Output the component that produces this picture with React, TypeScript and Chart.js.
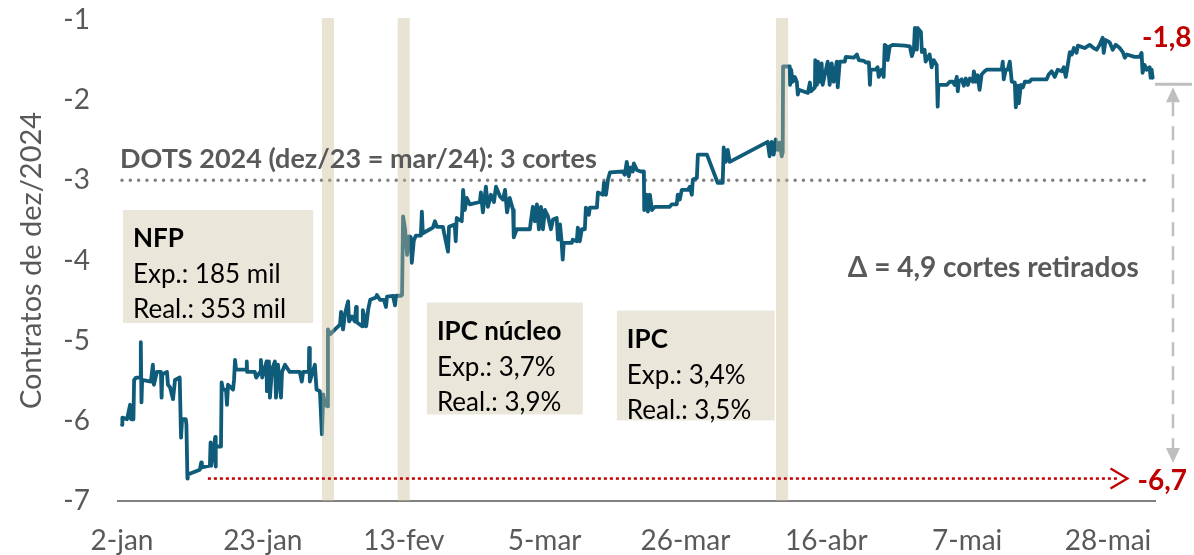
import React, { useEffect, useRef } from 'react';
import { Chart, registerables } from 'chart.js';

Chart.register(...registerables);

const FONT = 'Lato, "Noto Sans", sans-serif';
const GRAY = '#595959';
const RED = '#C00000';
const LINE = '#0F5B7A';

// Eixo X: dias desde 2-jan-2024
const tickDays = [0, 21, 42, 63, 84, 105, 126, 147];
const tickLabels = ['2-jan', '23-jan', '13-fev', '5-mar', '26-mar', '16-abr', '7-mai', '28-mai'];
const yTickValues = [-7, -6, -5, -4, -3, -2, -1];

// [dias desde 2-jan, cortes precificados]
const pontosJan: [number, number][] = [
  [0, -6.05], [0.05, -5.96], [0.75, -5.98], [1.2, -5.8], [1.35, -5.98], [1.7, -5.98], [1.8, -5.49], [2.1, -5.46],
  [2.75, -5.46], [2.8, -5.02], [2.9, -5.77], [3.0, -5.49], [4.3, -5.51], [4.6, -5.3], [4.75, -5.55], [5.2, -5.39],
  [5.8, -5.39], [5.9, -5.71], [6.0, -5.42], [6.7, -5.39], [6.85, -5.55], [7.15, -5.58], [7.6, -5.73], [7.9, -5.49],
  [8.6, -5.46], [8.8, -6.21], [8.95, -5.98], [9.5, -5.98], [9.6, -6.05], [9.75, -6.72], [9.8, -6.67], [11.6, -6.61],
  [11.8, -6.52], [11.9, -6.58], [13.1, -6.56], [13.2, -6.27], [13.3, -6.56], [13.9, -6.2], [13.95, -6.57], [14.0, -6.32],
  [14.75, -6.32], [14.85, -5.52], [15.05, -5.61], [15.5, -5.61], [15.65, -5.8], [15.8, -5.55], [16.55, -5.61], [16.7, -5.49],
  [16.85, -5.24], [17.0, -5.36], [18.5, -5.36], [18.6, -5.26], [18.65, -5.39], [19.8, -5.39], [20.0, -5.46], [20.6, -5.39],
  [20.7, -5.24], [20.9, -5.46], [21.55, -5.26], [21.6, -5.63], [21.9, -5.26], [22.05, -5.71], [22.35, -5.36], [22.8, -5.26],
  [22.95, -5.71], [23.25, -5.3], [23.7, -5.71], [23.85, -5.39], [24.3, -5.3], [25.0, -5.39], [26.5, -5.39], [26.8, -5.51],
  [27.0, -5.39], [27.85, -5.39], [27.9, -5.09], [28.0, -5.51], [28.75, -5.3], [29.0, -5.61], [29.5, -5.63], [29.8, -6.17],
  [30.0, -5.67], [30.25, -5.8], [30.65, -5.82],
];

const pontosFev: [number, number][] = [
  [30.7, -4.86], [31.0, -4.92], [31.75, -4.86], [32.5, -4.8], [32.65, -4.64], [32.95, -4.86], [33.25, -4.66], [33.7, -4.51],
  [33.85, -4.76], [34.3, -4.7], [34.7, -4.76], [34.9, -4.58], [35.0, -4.77], [35.8, -4.82], [35.9, -4.62], [36.4, -4.82],
  [36.7, -4.61], [37.0, -4.49], [37.85, -4.46], [38.0, -4.43], [38.45, -4.49], [39.05, -4.49], [39.35, -4.58], [39.5, -4.45],
  [40.4, -4.44], [40.7, -4.56], [40.85, -4.44], [41.6, -4.44], [41.75, -4.43], [41.9, -3.45], [42.2, -3.61], [42.5, -3.93],
  [42.8, -3.7], [42.9, -3.86], [43.05, -3.71], [43.2, -4.03], [43.5, -3.75], [43.8, -3.69], [44.55, -3.69], [44.7, -3.39],
  [44.85, -3.66], [45.9, -3.61], [46.35, -3.59], [46.65, -3.51], [46.95, -3.58], [47.85, -3.58], [48.0, -3.65], [48.6, -3.89],
  [48.75, -3.58], [49.6, -3.55], [49.75, -3.76], [49.9, -3.47], [50.65, -3.51], [50.85, -3.12], [51.1, -3.37], [51.4, -3.22],
  [51.85, -3.3], [53.35, -3.27], [53.5, -3.15], [53.8, -3.4], [54.25, -3.08], [54.55, -3.33], [55.0, -3.18], [55.45, -3.27],
  [55.75, -3.08], [56.35, -3.2], [56.8, -3.24], [57.1, -3.12], [57.4, -3.4], [57.8, -3.22], [58.3, -3.37], [58.4, -3.71],
];

const pontosMar: [number, number][] = [
  [58.85, -3.61], [60.8, -3.61], [60.95, -3.51], [61.25, -3.33], [61.55, -3.51], [61.85, -3.3], [62.15, -3.61], [62.45, -3.33],
  [62.75, -3.61], [63.05, -3.37], [63.5, -3.45], [63.95, -3.61], [64.25, -3.49], [64.8, -3.47], [65.0, -3.74], [65.3, -3.55],
  [65.55, -3.78], [65.7, -3.99], [65.85, -3.78], [67.05, -3.78], [67.2, -3.74], [67.8, -3.76], [67.95, -3.59], [68.25, -3.76],
  [68.55, -3.61], [69.0, -3.61], [69.15, -3.34], [69.6, -3.43], [69.75, -3.34], [70.8, -3.34], [70.95, -3.15], [71.7, -3.18],
  [71.85, -3.03], [72.15, -3.18], [72.45, -2.99], [72.75, -2.9], [74.65, -2.89], [74.95, -2.93], [75.25, -2.77], [75.55, -2.95],
  [75.85, -2.84], [76.15, -2.89], [76.3, -2.79], [76.75, -2.87], [77.35, -2.89], [77.8, -2.89], [77.85, -3.37], [78.25, -3.18],
  [78.4, -3.39], [78.7, -3.18], [79.0, -3.37], [79.45, -3.33], [81.65, -3.33], [81.95, -3.3], [82.7, -3.3], [82.85, -3.18],
  [83.15, -3.24], [83.45, -3.12], [84.35, -3.12], [84.65, -3.08], [84.95, -3.18], [85.1, -2.99], [85.7, -2.97], [85.85, -2.68],
  [87.2, -2.68], [88.8, -3.03], [89.55, -3.03], [89.7, -2.59], [90.0, -2.77], [90.3, -2.62], [90.6, -2.77], [96.25, -2.52],
  [96.55, -2.7], [96.85, -2.52], [97.15, -2.68], [97.45, -2.49], [97.75, -2.62], [98.05, -2.53], [98.35, -2.7], [98.5, -2.65],
];

const pontosAbrMai: [number, number][] = [
  [98.55, -1.58], [99.55, -1.58], [99.6, -1.81], [99.75, -1.62], [100.0, -1.77], [100.3, -1.71], [100.6, -1.77], [100.75, -1.93],
  [100.9, -1.87], [102.25, -1.91], [102.55, -1.78], [102.7, -1.89], [103.3, -1.84], [103.35, -1.5], [103.6, -1.81], [103.75, -1.52],
  [104.0, -1.77], [104.3, -1.54], [104.45, -1.81], [105.2, -1.52], [105.5, -1.81], [105.8, -1.54], [106.1, -1.77], [106.55, -1.52],
  [106.7, -1.84], [107.0, -1.52], [107.75, -1.52], [107.9, -1.46], [109.1, -1.47], [109.55, -1.43], [109.85, -1.5], [110.6, -1.51],
  [110.9, -1.53], [111.35, -1.53], [111.5, -1.81], [111.6, -1.62], [112.35, -1.62], [112.65, -1.59], [112.8, -1.71], [113.25, -1.62],
  [113.55, -1.71], [113.7, -1.31], [114.0, -1.33], [114.15, -1.5], [114.45, -1.33], [114.9, -1.31], [116.7, -1.32], [117.45, -1.33],
  [117.75, -1.45], [118.05, -1.37], [118.2, -1.1], [118.5, -1.37], [118.6, -1.1], [119.1, -1.15], [119.25, -1.4], [119.65, -1.37],
  [119.8, -1.52], [120.4, -1.43], [120.7, -1.59], [121.0, -1.5], [121.45, -1.56], [121.6, -2.08], [121.7, -1.81], [122.95, -1.81],
  [123.4, -1.77], [123.85, -1.77], [124.15, -1.81], [124.45, -1.71], [124.6, -1.89], [124.75, -1.77], [125.2, -1.74], [125.5, -1.82],
  [125.8, -1.73], [126.1, -1.81], [126.4, -1.73], [126.85, -1.77], [127.0, -1.64], [127.25, -1.77], [127.55, -1.69], [127.85, -1.87],
  [128.15, -1.68], [128.6, -1.64], [128.9, -1.62], [131.15, -1.62], [131.3, -1.52], [131.45, -1.74], [131.75, -1.62], [132.05, -1.62],
  [132.35, -1.52], [132.65, -1.77], [133.1, -1.78], [133.25, -2.09], [133.55, -1.82], [133.7, -2.04], [134.0, -1.81], [134.3, -1.84],
  [134.6, -1.77], [135.3, -1.77], [135.6, -1.74], [137.85, -1.74], [138.15, -1.68], [138.6, -1.64], [139.05, -1.71], [139.5, -1.62],
  [140.1, -1.64], [140.4, -1.59], [140.7, -1.71], [141.0, -1.56], [141.3, -1.4], [141.6, -1.43], [141.9, -1.35], [142.3, -1.41],
  [142.5, -1.32], [143.5, -1.35], [144.25, -1.31], [144.85, -1.35], [145.3, -1.37], [145.75, -1.31], [146.2, -1.22], [146.35, -1.41],
  [146.65, -1.25], [147.25, -1.28], [147.7, -1.37], [148.15, -1.31], [148.75, -1.35], [149.2, -1.4], [149.5, -1.47], [149.8, -1.43],
  [150.95, -1.46], [151.7, -1.46], [152.0, -1.41], [152.15, -1.66], [152.45, -1.56], [152.75, -1.62], [153.2, -1.59], [153.35, -1.72],
  [153.5, -1.62], [153.65, -1.72],
];

const serie = [...pontosJan, ...pontosFev, ...pontosMar, ...pontosAbrMai];

// Eventos (NFP 2-fev, IPC 13-fev, IPC 10-abr)
const eventDays = [30.7, 42.0, 98.4];
const dotsLevel = -3;
const dotsLabel = 'DOTS 2024 (dez/23 = mar/24): 3 cortes';
const endLevel = -1.8;
const endLabel = '-1,8';
const lowLevel = Math.min(...serie.map((p) => p[1]));
const lowLabel = '-6,7';
const lowFromDay = 12.8;
const deltaLabel = 'Δ = 4,9 cortes retirados';

const linesNFP = ['NFP', 'Exp.: 185 mil', 'Real.: 353 mil'];
const linesNucleo = ['IPC núcleo', 'Exp.: 3,7%', 'Real.: 3,9%'];
const linesIPC = ['IPC', 'Exp.: 3,4%', 'Real.: 3,5%'];

const boxes = [
  { from: 0.15, to: 28.5, top: -3.37, bottom: -4.78, lines: linesNFP },
  { from: 45.45, to: 68.7, top: -4.525, bottom: -5.92, lines: linesNucleo },
  { from: 73.77, to: 97.3, top: -4.625, bottom: -5.995, lines: linesIPC },
];

const annotations = {
  id: 'annotations',
  beforeDatasetsDraw(chart: any) {
    const { ctx, chartArea: ca, scales } = chart;
    const x = scales.x, y = scales.y;
    ctx.save();
    for (const b of boxes) {
      const x0 = x.getPixelForValue(b.from);
      const x1 = x.getPixelForValue(b.to);
      const y0 = y.getPixelForValue(b.top);
      const y1 = y.getPixelForValue(b.bottom);
      ctx.fillStyle = '#EAE6D9';
      ctx.fillRect(x0, y0, x1 - x0, y1 - y0);
      ctx.fillStyle = '#000000';
      ctx.textAlign = 'left';
      ctx.textBaseline = 'alphabetic';
      const offs = [37, 73, 108];
      b.lines.forEach((t, i) => {
        ctx.font = (i === 0 ? 'bold ' : '') + '26px ' + FONT;
        ctx.fillText(t, x0 + 10, y0 + offs[i]);
      });
    }
    const yd = y.getPixelForValue(dotsLevel);
    ctx.strokeStyle = '#7F7F7F';
    ctx.lineWidth = 3.5;
    ctx.lineCap = 'round';
    ctx.setLineDash([0.01, 8.3]);
    ctx.beginPath();
    ctx.moveTo(ca.left + 4, yd);
    ctx.lineTo(x.getPixelForValue(153.2), yd);
    ctx.stroke();
    ctx.restore();
  },
  afterDatasetsDraw(chart: any) {
    const { ctx, chartArea: ca, scales } = chart;
    const x = scales.x, y = scales.y;
    ctx.save();
    ctx.fillStyle = 'rgba(201,187,150,0.41)';
    for (const d of eventDays) {
      const xa = x.getPixelForValue(d - 0.9);
      const xb = x.getPixelForValue(d + 0.9);
      ctx.fillRect(xa, ca.top - 2, xb - xa, ca.bottom - ca.top + 2);
    }
    ctx.fillStyle = GRAY;
    ctx.font = 'bold 27px ' + FONT;
    ctx.textAlign = 'left';
    ctx.textBaseline = 'alphabetic';
    ctx.fillText(dotsLabel, x.getPixelForValue(-0.3), y.getPixelForValue(-2.84));
    ctx.font = 'bold 28px ' + FONT;
    ctx.textAlign = 'center';
    ctx.fillText(deltaLabel, x.getPixelForValue(129.9), y.getPixelForValue(-4.21));

    const yl = y.getPixelForValue(lowLevel);
    const tip = x.getPixelForValue(149.9);
    ctx.strokeStyle = RED;
    ctx.lineWidth = 2.5;
    ctx.lineCap = 'butt';
    ctx.setLineDash([3, 3]);
    ctx.beginPath();
    ctx.moveTo(x.getPixelForValue(lowFromDay), yl);
    ctx.lineTo(tip - 8, yl);
    ctx.stroke();
    ctx.setLineDash([]);
    ctx.lineWidth = 2.2;
    ctx.beginPath();
    ctx.moveTo(tip - 17, yl - 10);
    ctx.lineTo(tip, yl);
    ctx.lineTo(tip - 17, yl + 10);
    ctx.stroke();
    ctx.fillStyle = RED;
    ctx.font = 'bold 28px ' + FONT;
    ctx.textAlign = 'left';
    ctx.fillText(lowLabel, tip + 10, yl + 11);

    const ye = y.getPixelForValue(endLevel);
    ctx.fillText(endLabel, ca.right - 13, ye - 37);

    const xr = ca.right + 18;
    const yLowArrow = y.getPixelForValue(-6.7);
    ctx.strokeStyle = '#BFBFBF';
    ctx.fillStyle = '#BFBFBF';
    ctx.lineWidth = 3;
    ctx.beginPath();
    ctx.moveTo(ca.right, ye);
    ctx.lineTo(ca.right + 37, ye);
    ctx.stroke();
    ctx.setLineDash([14, 10]);
    ctx.lineWidth = 2.5;
    ctx.beginPath();
    ctx.moveTo(xr, ye + 18);
    ctx.lineTo(xr, yLowArrow - 29);
    ctx.stroke();
    ctx.setLineDash([]);
    ctx.beginPath();
    ctx.moveTo(xr, ye + 3);
    ctx.lineTo(xr - 7, ye + 18);
    ctx.lineTo(xr + 7, ye + 18);
    ctx.closePath();
    ctx.fill();
    ctx.beginPath();
    ctx.moveTo(xr, yLowArrow - 14);
    ctx.lineTo(xr - 7, yLowArrow - 29);
    ctx.lineTo(xr + 7, yLowArrow - 29);
    ctx.closePath();
    ctx.fill();
    ctx.restore();
  },
};

export default function App() {
  const ref = useRef<HTMLCanvasElement | null>(null);

  useEffect(() => {
    if (!ref.current) return;
    const chart = new Chart(ref.current, {
      type: 'line',
      data: {
        datasets: [
          {
            data: serie.map(([d, v]) => ({ x: d, y: v })),
            borderColor: LINE,
            borderWidth: 3.8,
            pointRadius: 0,
            tension: 0,
            borderCapStyle: 'round',
            borderJoinStyle: 'round',
            fill: false,
          },
        ],
      },
      options: {
        animation: false,
        responsive: true,
        maintainAspectRatio: false,
        layout: { padding: { left: 0, right: 39, top: 20, bottom: 0 } },
        plugins: { legend: { display: false }, tooltip: { enabled: false } },
        scales: {
          x: {
            type: 'linear',
            min: -0.6,
            max: 154,
            afterBuildTicks: (s: any) => {
              s.ticks = tickDays.map((v) => ({ value: v }));
            },
            afterFit: (s: any) => {
              s.height = 54;
            },
            ticks: {
              autoSkip: false,
              maxRotation: 0,
              padding: 23,
              color: GRAY,
              font: { family: FONT, size: 28 },
              callback: (v: any) => {
                const i = tickDays.indexOf(Number(v));
                return i >= 0 ? tickLabels[i] : '';
              },
            },
            grid: { display: false, drawTicks: false },
            border: { display: true, color: '#808080', width: 2 },
          },
          y: {
            min: -7,
            max: -1,
            afterBuildTicks: (s: any) => {
              s.ticks = yTickValues.map((v) => ({ value: v }));
            },
            afterFit: (s: any) => {
              s.width = 118;
            },
            ticks: {
              padding: 0,
              color: GRAY,
              font: { family: FONT, size: 28 },
              callback: (v: any) => String(v),
            },
            grid: {
              display: true,
              drawOnChartArea: false,
              drawTicks: true,
              tickLength: 28,
              color: 'rgba(0,0,0,0)',
            },
            border: { display: false },
            title: {
              display: true,
              text: 'Contratos de dez/2024',
              color: GRAY,
              font: { family: FONT, size: 29 },
              padding: { top: 14, bottom: 0 },
            },
          },
        },
      },
      plugins: [annotations],
    } as any);
    return () => chart.destroy();
  }, []);

  return (
    <div style={{ position: 'fixed', left: 0, top: 0, width: 1194, height: 555, background: '#ffffff' }}>
      <canvas ref={ref} />
    </div>
  );
}
